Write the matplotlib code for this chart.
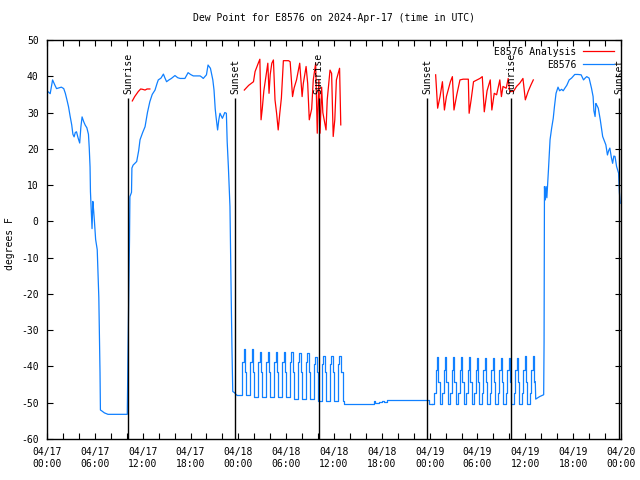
import numpy as np
import matplotlib
matplotlib.use('Agg')
import matplotlib.pyplot as plt

plt.rcParams['font.family'] = 'DejaVu Sans Mono'
plt.rcParams['axes.unicode_minus'] = False

# hours since 04/17 00:00 UTC
blue_t1 = [0.1, 0.4, 0.7, 1.0, 1.2, 1.5, 1.8, 2.1, 2.3, 2.5, 2.7, 2.9, 3.1, 3.25, 3.4, 3.55, 3.7,
           3.9, 4.1, 4.25, 4.4, 4.6, 4.8, 5.0, 5.2, 5.3, 5.4, 5.45, 5.55, 5.65, 5.75, 5.85, 5.95,
           6.1, 6.3, 6.5, 6.65, 6.7, 6.9, 7.2, 7.65, 8.5, 9.5, 10.07, 10.15, 10.35, 10.4, 10.6,
           10.65, 10.8, 11.25, 11.5, 11.67, 12.0, 12.3, 12.6, 12.9, 13.2, 13.55, 13.8, 13.96,
           14.3, 14.6, 14.8, 15.0, 15.3, 15.6, 16.05, 16.4, 16.7, 17.0, 17.3, 17.7, 18.0, 18.35,
           18.8, 19.2, 19.4, 19.6, 20.0, 20.2, 20.5, 20.8, 20.95, 21.1, 21.2, 21.4, 21.55, 21.7,
           22.0, 22.3, 22.5, 22.6, 22.75, 22.95, 23.1, 23.2, 23.3, 23.5, 23.8]
blue_v1 = [35.8, 35.2, 39.0, 37.5, 36.6, 36.8, 37.0, 36.6, 35.3, 33.5, 31.6, 29.0, 26.6, 24.0, 23.3,
           24.5, 24.7, 23.0, 21.6, 26.0, 28.8, 27.5, 26.5, 25.8, 24.0, 20.2, 15.0, 8.2, 3.0, -2.0,
           5.5, 3.0, 0.0, -5.0, -7.8, -21.0, -41.7, -52.0, -52.3, -52.8, -53.2, -53.2, -53.2,
           -53.2, -38.0, -5.0, 6.8, 8.0, 14.7, 15.5, 16.5, 19.5, 22.5, 24.5, 26.1, 30.0, 33.0,
           35.0, 36.2, 38.0, 39.0, 39.5, 40.6, 39.5, 38.5, 39.0, 39.4, 40.2, 39.6, 39.4, 39.4,
           39.4, 41.0, 40.5, 40.1, 40.1, 40.1, 39.8, 39.4, 40.4, 43.1, 42.2, 39.0, 36.2, 31.0,
           28.9, 25.2, 28.0, 29.8, 28.4, 30.0, 29.8, 22.0, 15.1, 4.1, -20.0, -35.0, -46.9, -47.2,
           -47.9]

# 04/18 cycling section, 10 minute samples from 24:00
osc1_start = 24.0
osc1_v = [-47.9, -47.9, -47.9, -38.9, -35.3, -41.4,
          -47.9, -47.9, -47.9, -38.9, -35.3, -41.4,
          -48.3, -48.3, -48.3, -38.9, -35.9, -41.4,
          -48.3, -48.3, -48.3, -38.9, -35.9, -41.4,
          -48.3, -48.3, -48.3, -38.9, -35.9, -41.4,
          -48.3, -48.3, -48.3, -38.9, -35.9, -41.4,
          -48.3, -48.3, -48.3, -38.9, -35.9, -41.4,
          -49.0, -49.0, -49.0, -38.9, -36.4, -41.4,
          -49.0, -49.0, -49.0, -38.9, -36.4, -41.4,
          -49.0, -49.0, -49.0, -39.2, -37.3, -41.4,
          -49.5, -49.5, -49.5, -39.2, -37.1, -41.4,
          -49.5, -49.5, -49.5, -39.2, -37.1, -41.4,
          -49.5, -49.5, -49.5, -39.2, -37.1, -41.4]

blue_t2 = [37.0, 37.1, 37.2, 40.8, 41.0, 41.2, 41.6, 42.0, 42.3, 42.6, 45.0, 47.8, 47.9, 48.25]
blue_v2 = [-41.4, -49.5, -50.4, -50.4, -49.5, -50.0, -49.8, -49.5, -49.8, -49.3, -49.3, -49.3,
           -50.4, -50.4]

# 04/19 cycling section, 10 minute samples
osc2_start = 48.25
osc2_v = [-50.4, -50.4, -47.4, -41.0, -37.5, -44.2,
          -50.4, -50.4, -47.4, -41.0, -37.5, -44.2,
          -50.4, -50.4, -47.4, -41.0, -37.3, -44.2,
          -50.4, -50.4, -47.4, -41.0, -37.5, -44.2,
          -50.4, -50.4, -47.4, -41.0, -37.5, -44.2,
          -50.4, -50.4, -47.4, -41.0, -37.8, -44.2,
          -50.4, -50.4, -47.4, -41.0, -37.8, -44.2,
          -50.4, -50.4, -47.4, -41.0, -37.8, -44.2,
          -50.4, -50.4, -47.4, -41.0, -37.8, -44.2,
          -50.4, -50.4, -47.4, -41.0, -37.8, -44.2,
          -50.4, -50.4, -47.4, -41.0, -37.8, -44.2,
          -50.4, -50.4, -47.4, -41.0, -37.1, -44.2,
          -50.4, -50.4, -47.4, -41.0, -37.1, -44.2]

blue_t3 = [61.25, 61.3, 61.8, 62.3, 62.35, 62.4, 62.5, 62.6, 62.7, 62.9, 63.1, 63.3, 63.5, 63.65,
           63.85, 64.1, 64.3, 64.55, 64.75, 64.95, 65.2, 65.5, 65.8, 66.2, 66.6, 67.0, 67.3, 67.5,
           67.7, 68.0, 68.3, 68.5, 68.6, 68.75, 68.85, 68.95, 69.15, 69.4, 69.7, 70.1, 70.3, 70.45,
           70.6, 70.8, 70.95, 71.1, 71.25, 71.45, 71.7, 71.8, 71.9]
blue_v3 = [-44.2, -49.0, -48.3, -47.8, -33.5, 9.6, 5.9, 9.6, 6.5, 14.2, 22.5, 25.7, 28.4, 31.6,
           35.3, 37.0, 36.0, 36.4, 36.0, 36.7, 37.5, 39.0, 39.5, 40.5, 40.5, 40.4, 39.0, 39.5,
           39.9, 39.5, 36.7, 34.4, 30.5, 28.9, 32.5, 32.1, 31.2, 28.0, 23.4, 21.1, 18.3, 19.5,
           20.2, 17.5, 16.0, 18.0, 17.9, 15.1, 13.3, 8.0, 5.0]

red_t1 = [10.7, 11.0, 11.45, 11.75, 12.0, 12.3, 12.55, 12.9]
red_v1 = [33.2, 34.4, 35.8, 36.5, 36.4, 36.2, 36.5, 36.5]

red_t2 = [24.75, 25.0, 25.3, 25.6, 25.9, 26.1, 26.5, 26.7, 26.85, 27.0, 27.2, 27.55, 27.7, 27.85,
          28.0, 28.2, 28.4, 28.6, 28.8, 29.0, 29.2, 29.4, 29.65, 30.3, 30.5, 30.8, 31.0, 31.3,
          31.7, 32.0, 32.15, 32.5, 32.7, 32.9, 33.2, 33.4, 33.7, 33.9, 34.1, 34.25, 34.45, 34.6,
          35.0, 35.15, 35.5, 35.7, 35.9, 36.1, 36.3, 36.7, 36.85]
red_v2 = [36.2, 36.8, 37.5, 38.0, 38.5, 41.3, 43.6, 44.7, 28.0, 31.0, 36.0, 41.3, 43.6, 35.3,
          40.5, 43.6, 44.5, 33.5, 29.8, 25.2, 29.8, 34.0, 44.3, 44.3, 44.0, 34.4, 36.8, 39.0,
          43.6, 34.4, 38.0, 42.7, 38.0, 28.0, 31.0, 39.0, 43.6, 24.3, 39.0, 24.3, 37.0, 30.0,
          25.2, 33.5, 41.7, 40.8, 23.4, 28.0, 39.0, 42.2, 26.6]

red_t3 = [48.75, 49.0, 49.3, 49.6, 49.85, 50.1, 50.6, 50.85, 51.05, 51.4, 51.8, 52.2, 52.85, 52.95,
          53.2, 53.5, 54.3, 54.6, 54.85, 55.2, 55.6, 55.8, 56.1, 56.4, 56.8, 57.0, 57.2, 57.6,
          57.85, 58.05, 58.5, 58.9, 59.3, 59.7, 60.0, 60.35, 60.7, 61.0]
red_v3 = [40.4, 31.2, 34.4, 38.5, 30.7, 34.4, 38.5, 39.9, 30.7, 34.9, 39.0, 39.2, 39.2, 29.8,
          33.5, 38.5, 39.4, 39.9, 30.2, 36.0, 39.0, 30.7, 35.3, 34.9, 39.0, 34.4, 37.2, 36.7,
          39.4, 35.8, 35.8, 37.2, 38.1, 39.4, 33.5, 35.8, 37.6, 39.0]

sun_t = [10.15, 23.6, 34.1, 47.7, 58.2, 71.8]
sun_names = ['Sunrise', 'Sunset', 'Sunrise', 'Sunset', 'Sunrise', 'Sunset']

day_names = ['04/17', '04/18', '04/19', '04/20']
hour_names = ['00:00', '06:00', '12:00', '18:00']

# the cycling parts are drawn as steps, with the neighbouring points so the line stays joined
osc1_t = np.concatenate([[blue_t1[-1]], osc1_start + np.arange(len(osc1_v)) / 6.0])
osc1_y = np.concatenate([[blue_v1[-1]], osc1_v])
osc2_t = osc2_start + np.arange(len(osc2_v)) / 6.0

fig = plt.figure(figsize=(6.4, 4.8), dpi=100)
ax = fig.add_axes([47 / 640, 41 / 480, 574 / 640, 399 / 480])

fs = 7
red = '#ff0000'
blue = '#1080ff'

ax.plot(red_t1, red_v1, color=red, lw=0.9, label='E8576 Analysis')
ax.plot(red_t2, red_v2, color=red, lw=0.9)
ax.plot(red_t3, red_v3, color=red, lw=0.9)

ax.plot(blue_t1, blue_v1, color=blue, lw=0.9, label='E8576')
ax.plot(osc1_t, osc1_y, color=blue, lw=0.9, drawstyle='steps-post')
ax.plot(blue_t2, blue_v2, color=blue, lw=0.9, drawstyle='steps-post')
ax.plot(osc2_t, osc2_v, color=blue, lw=0.9, drawstyle='steps-post')
ax.plot(blue_t3, blue_v3, color=blue, lw=0.9)

for t, name in zip(sun_t, sun_names):
    ax.vlines(t, -60, 34, color='black', lw=1.0)
    ax.text(t, 35, name, rotation=90, ha='center', va='bottom', fontsize=fs)

ax.set_xlim(0, 72)
ax.set_ylim(-60, 50)

major = np.arange(0, 73, 6)
labels = []
for h in major:
    if h == 72:
        labels.append(day_names[3] + '\n' + hour_names[0])
    else:
        labels.append(day_names[h // 24] + '\n' + hour_names[(h % 24) // 6])
ax.set_xticks(major)
ax.set_xticklabels(labels)
ax.set_xticks(np.arange(0, 73, 2), minor=True)
ax.set_yticks(np.arange(-60, 51, 10))

ax.tick_params(which='both', direction='in', top=True, right=True, length=4, width=0.8,
               labelsize=fs)
ax.tick_params(axis='x', pad=6)
ax.tick_params(axis='y', pad=6)
for s in ax.spines.values():
    s.set_linewidth(1.0)

ax.set_ylabel('degrees F', fontsize=fs)
ax.yaxis.set_label_coords(-0.056, 0.49)
ax.set_title('Dew Point for E8576 on 2024-Apr-17 (time in UTC)', fontsize=fs, pad=14)

ax.legend(loc='upper right', frameon=False, markerfirst=False, fontsize=fs, handlelength=3.2,
          handletextpad=0.7, borderaxespad=0.3, labelspacing=0.3)

fig.savefig('out.png', dpi=100)
